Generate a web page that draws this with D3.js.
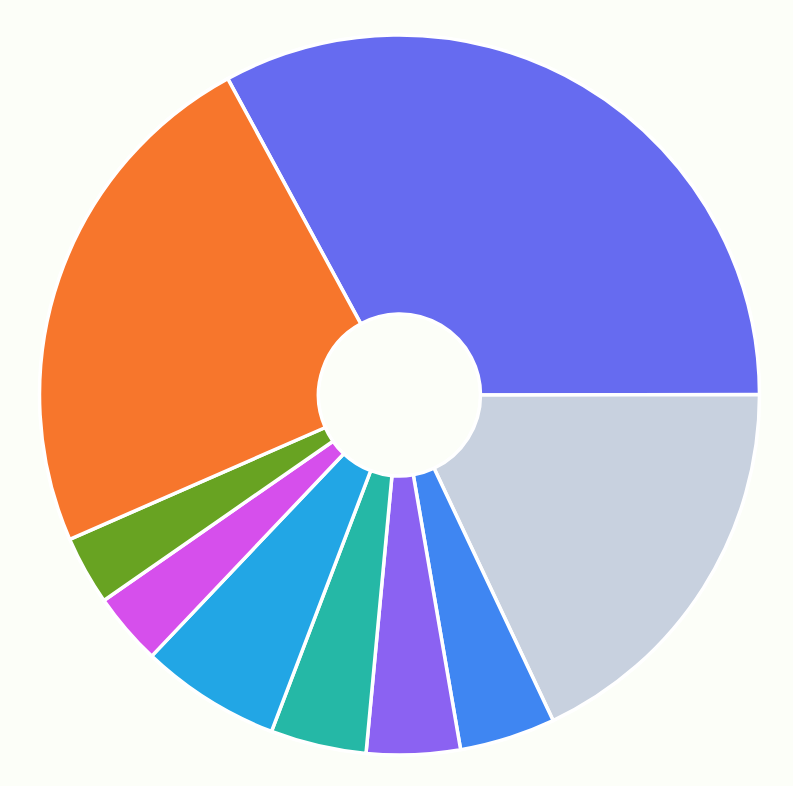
<!DOCTYPE html>
<html>
<head>
<meta charset="utf-8">
<script src="https://cdn.jsdelivr.net/npm/d3@7"></script>
<style>
  html, body { margin: 0; padding: 0; background: #fcfef8; }
  svg { display: block; }
</style>
</head>
<body>
<svg id="chart"></svg>
<script>
// slice values (percent), in drawing order
const categories = ["A", "B", "C", "D", "E", "F", "G", "H", "I"];
const values = [32.9, 18.0, 4.3, 4.2, 4.3, 6.3, 3.25, 3.1, 23.65];
const colors = ["#666bf0", "#c8d1df", "#3f86f2", "#8b62f2", "#25b8a6",
                "#22a6e5", "#d64fec", "#68a322", "#f7762c"];

const width = 793, height = 786;
const cx = 399.5, cy = 395;
const outerR = 360, innerR = 81;

const svg = d3.select("#chart")
    .attr("width", width)
    .attr("height", height);

const pie = d3.pie()
    .sort(null)
    .value(d => d)
    .startAngle(-28.5 * Math.PI / 180)
    .endAngle(-28.5 * Math.PI / 180 + 2 * Math.PI);

const arc = d3.arc()
    .innerRadius(innerR)
    .outerRadius(outerR);

const color = d3.scaleOrdinal().domain(categories).range(colors);

const g = svg.append("g")
    .attr("transform", `translate(${cx}, ${cy})`);

g.selectAll("path")
    .data(pie(values))
    .join("path")
    .attr("d", arc)
    .attr("fill", (d, i) => color(categories[i]))
    .attr("stroke", "#ffffff")
    .attr("stroke-width", 3.5)
    .attr("stroke-linejoin", "round");
</script>
</body>
</html>
